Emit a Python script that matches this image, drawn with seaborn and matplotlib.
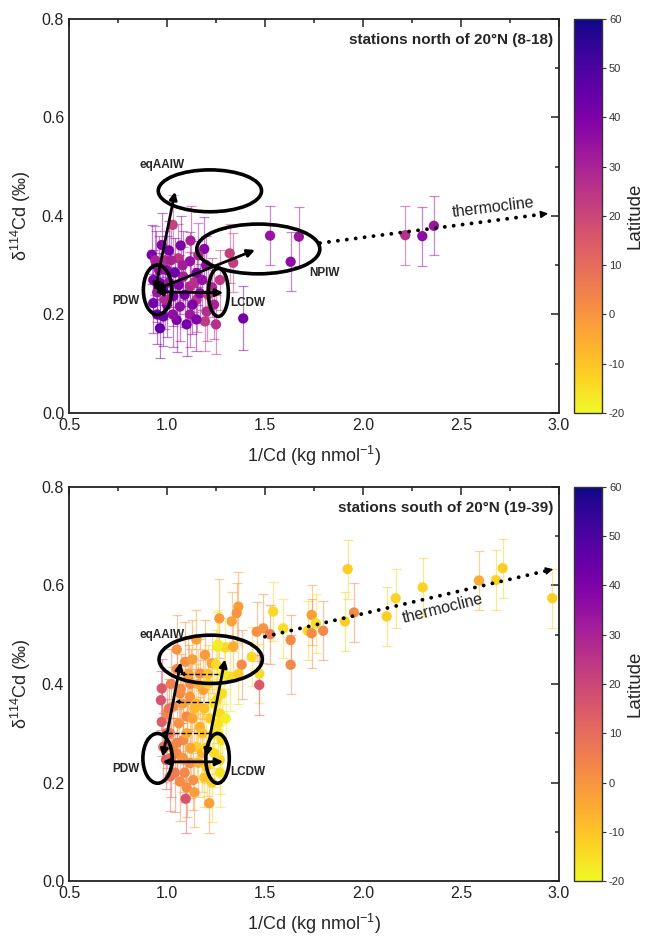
import numpy as np
import pandas as pd
import matplotlib
matplotlib.use("Agg")
import matplotlib.pyplot as plt
import seaborn as sns
from matplotlib.patches import Ellipse
from matplotlib.colors import Normalize
from matplotlib.cm import ScalarMappable
from matplotlib.ticker import MultipleLocator

# ---------------- data ----------------
# stations north of 20°N (8-18)
x_north = [1.029, 0.973, 0.922, 1.058, 1.117, 1.190, 1.320, 1.338, 0.999, 1.083,
           1.151, 0.964, 1.117, 1.032, 1.151, 0.930, 1.066, 0.981, 1.049, 1.194,
           0.964, 1.117, 1.168, 1.202, 0.945, 1.010, 1.090, 1.230, 0.990, 1.040,
           1.140, 1.000, 0.950, 1.250, 1.200, 1.100,
           0.930, 0.960, 0.980, 1.020, 1.060, 1.080, 1.130, 1.160, 1.180, 1.210,
           1.240, 0.950, 1.030, 1.070, 1.120, 0.990, 1.150, 1.270, 1.010, 0.940,
           1.389, 1.526, 1.631, 1.673, 2.216, 2.303, 2.362]
y_north = [0.382, 0.341, 0.321, 0.314, 0.308, 0.333, 0.324, 0.305, 0.290, 0.277,
           0.284, 0.264, 0.257, 0.237, 0.230, 0.223, 0.216, 0.196, 0.189, 0.186,
           0.172, 0.200, 0.243, 0.206, 0.300, 0.265, 0.240, 0.255, 0.310, 0.285,
           0.265, 0.220, 0.245, 0.180, 0.300, 0.180,
           0.270, 0.290, 0.250, 0.310, 0.260, 0.300, 0.220, 0.320, 0.270, 0.240,
           0.220, 0.200, 0.200, 0.340, 0.350, 0.230, 0.190, 0.270, 0.330, 0.310,
           0.192, 0.360, 0.307, 0.358, 0.361, 0.359, 0.380]
err_north = [0.060, 0.065, 0.060, 0.070, 0.060, 0.065, 0.060, 0.060, 0.070, 0.060,
             0.065, 0.060, 0.070, 0.060, 0.065, 0.060, 0.070, 0.060, 0.065, 0.060,
             0.060, 0.065, 0.060, 0.060, 0.070, 0.060, 0.065, 0.060, 0.060, 0.070,
             0.060, 0.065, 0.060, 0.060, 0.060, 0.065,
             0.060, 0.070, 0.060, 0.065, 0.060, 0.070, 0.060, 0.065, 0.060, 0.060,
             0.070, 0.060, 0.065, 0.060, 0.070, 0.060, 0.065, 0.060, 0.060, 0.070,
             0.065, 0.060, 0.060, 0.060, 0.060, 0.060, 0.060]
lat_north = [22, 38, 40, 25, 35, 38, 22, 23, 36, 30,
             40, 42, 28, 40, 25, 42, 36, 44, 40, 24,
             45, 33, 38, 27, 37, 33, 41, 29, 27, 44,
             26, 38, 33, 26, 36, 42,
             40, 35, 43, 30, 38, 32, 40, 28, 35, 22,
             30, 44, 36, 40, 30, 28, 39, 24, 42, 30,
             42, 34, 36, 34, 26, 36, 34]

# stations south of 20°N (19-39)
x_south = [1.593, 1.631, 1.631, 1.718, 1.738, 1.738, 1.760, 1.797, 1.908, 1.922,
           1.954, 2.121, 2.167, 2.305, 2.592, 2.679, 2.713, 2.966,
           1.364, 1.356, 1.267, 1.330, 1.542, 1.458, 1.491, 1.526, 1.257, 1.296,
           1.338, 1.432, 1.381, 1.471, 1.471, 1.321, 1.364, 1.092, 1.194, 1.228,
           1.168, 1.109, 1.066, 0.973, 0.969, 0.973, 0.995, 1.095, 1.216, 1.117,
           1.185, 1.253, 1.270, 1.032, 1.100, 1.168, 1.236, 1.015, 1.083, 1.151,
           1.049, 1.117, 1.202, 1.015, 1.066, 1.134, 1.270, 1.279, 0.981, 0.998,
           1.140, 1.210, 1.050, 1.260, 1.180, 1.120,
           1.000, 1.030, 1.060, 1.080, 1.100, 1.130, 1.150, 1.180, 1.200, 1.220,
           1.240, 1.260, 1.280, 1.020, 1.050, 1.130, 1.160, 1.210, 1.250, 1.290,
           1.040, 1.080, 1.120, 1.160, 1.190, 1.230, 1.270, 1.100, 1.140, 1.010,
           1.070, 1.110, 1.190, 1.240, 1.300, 1.050, 1.150, 1.260, 1.020, 1.090]
y_south = [0.513, 0.489, 0.439, 0.508, 0.540, 0.503, 0.523, 0.508, 0.527, 0.633,
           0.545, 0.537, 0.574, 0.596, 0.610, 0.611, 0.635, 0.574,
           0.557, 0.544, 0.533, 0.527, 0.547, 0.506, 0.513, 0.501, 0.476, 0.474,
           0.476, 0.455, 0.439, 0.421, 0.398, 0.415, 0.420, 0.445, 0.459, 0.442,
           0.421, 0.411, 0.381, 0.391, 0.367, 0.323, 0.246, 0.167, 0.158, 0.374,
           0.388, 0.367, 0.340, 0.354, 0.334, 0.313, 0.300, 0.300, 0.286, 0.272,
           0.259, 0.239, 0.232, 0.212, 0.202, 0.205, 0.246, 0.286, 0.272, 0.340,
           0.350, 0.400, 0.280, 0.320, 0.260, 0.400,
           0.300, 0.270, 0.320, 0.360, 0.300, 0.330, 0.360, 0.300, 0.270, 0.330,
           0.360, 0.300, 0.380, 0.400, 0.430, 0.450, 0.400, 0.420, 0.440, 0.420,
           0.220, 0.250, 0.270, 0.240, 0.210, 0.200, 0.220, 0.190, 0.180, 0.350,
           0.390, 0.420, 0.350, 0.260, 0.330, 0.470, 0.490, 0.480, 0.250, 0.220]
err_south = [0.060, 0.050, 0.060, 0.060, 0.060, 0.070, 0.060, 0.060, 0.060, 0.060,
             0.060, 0.060, 0.060, 0.060, 0.060, 0.060, 0.060, 0.060,
             0.070, 0.060, 0.080, 0.060, 0.060, 0.060, 0.070, 0.060, 0.070, 0.060,
             0.060, 0.060, 0.070, 0.060, 0.060, 0.070, 0.060, 0.080, 0.070, 0.060,
             0.070, 0.080, 0.060, 0.060, 0.060, 0.070, 0.060, 0.070, 0.060, 0.070,
             0.060, 0.070, 0.060, 0.080, 0.070, 0.060, 0.070, 0.060, 0.080, 0.070,
             0.060, 0.070, 0.060, 0.070, 0.080, 0.060, 0.070, 0.060, 0.070, 0.060,
             0.080, 0.070, 0.070, 0.060, 0.080, 0.070,
             0.070, 0.060, 0.080, 0.070, 0.060, 0.070, 0.080, 0.060, 0.070, 0.060,
             0.070, 0.080, 0.060, 0.070, 0.060, 0.080, 0.070, 0.060, 0.070, 0.060,
             0.080, 0.070, 0.060, 0.070, 0.060, 0.080, 0.070, 0.060, 0.070, 0.060,
             0.070, 0.060, 0.080, 0.070, 0.060, 0.070, 0.060, 0.070, 0.080, 0.060]
lat_south = [-15, 2, 3, -14, -2, 2, -15, 3, -12, -12,
             2, -12, -13, -13, -5, -13, -12, -12,
             -2, 0, -1, -3, -14, 1, 0, 6, -16, -15,
             -5, -14, 2, -15, 15, -15, -12, 1, -1, -3,
             0, 2, 3, 15, 16, 14, 14, 16, -2, 0,
             -2, -13, -15, 3, 2, -6, -14, 4, 2, -13,
             3, 1, -12, 8, 2, 1, -14, -15, 10, 3,
             -8, -13, 4, -16, -6, 1,
             10, 4, 0, -2, -5, -3, -8, -10, -14, -12,
             -16, -17, -15, 5, 2, -2, -6, -10, -15, -17,
             6, 0, -4, -6, -10, -13, -16, 2, -2, 8,
             1, -3, -9, -15, -18, 0, -3, -18, 10, 3]

lat_min, lat_max = -20, 60
lat_ticks = list(range(-20, 61, 10))
x_ticks = [0.5, 1.0, 1.5, 2.0, 2.5, 3.0]
y_ticks = [0.0, 0.2, 0.4, 0.6, 0.8]

north = pd.DataFrame({"inv_cd": x_north, "d114": y_north, "err": err_north, "lat": lat_north})
south = pd.DataFrame({"inv_cd": x_south, "d114": y_south, "err": err_south, "lat": lat_south})

# ---------------- style ----------------
sns.set_style("white")
plt.rcParams["font.family"] = ["Liberation Sans", "DejaVu Sans"]
plt.rcParams["axes.unicode_minus"] = False
plt.rcParams["mathtext.fontset"] = "custom"
plt.rcParams["mathtext.rm"] = "Liberation Sans"
plt.rcParams["mathtext.it"] = "Liberation Sans:italic"
plt.rcParams["mathtext.bf"] = "Liberation Sans:bold"

cmap = plt.get_cmap("plasma_r")
norm = Normalize(vmin=lat_min, vmax=lat_max)

fig = plt.figure(figsize=(6.48, 9.43), dpi=100)
ax_w = 0.756
ax_h = 0.418
ax_top = fig.add_axes([0.1065, 0.562, ax_w, ax_h])
ax_bot = fig.add_axes([0.1065, 0.0657, ax_w, ax_h])
cax_top = fig.add_axes([0.886, 0.562, 0.043, ax_h])
cax_bot = fig.add_axes([0.886, 0.0657, 0.043, ax_h])


def draw_points(ax, df):
    for _, r in df.iterrows():
        ax.errorbar(r["inv_cd"], r["d114"], yerr=r["err"], fmt="none",
                    ecolor=cmap(norm(r["lat"])), elinewidth=0.9, capsize=3.5,
                    capthick=0.9, alpha=0.5, zorder=2)
    sns.scatterplot(data=df, x="inv_cd", y="d114", hue="lat", palette="plasma_r",
                    hue_norm=(lat_min, lat_max), s=55, linewidth=0, legend=False,
                    ax=ax, zorder=3)


def style_axes(ax):
    ax.set_xlim(0.5, 3.0)
    ax.set_ylim(0.0, 0.8)
    ax.set_xticks(x_ticks)
    ax.set_yticks(y_ticks)
    ax.set_xticklabels([f"{v:.1f}" for v in x_ticks])
    ax.set_yticklabels([f"{v:.1f}" for v in y_ticks])
    ax.xaxis.set_minor_locator(MultipleLocator(0.25))
    ax.yaxis.set_minor_locator(MultipleLocator(0.1))
    ax.tick_params(which="both", direction="in", top=True, right=True,
                   labelsize=11.5, colors="#222222", labelcolor="#222222")
    ax.tick_params(which="major", length=6, width=1.1)
    ax.tick_params(which="minor", length=3, width=1.1)
    for s in ax.spines.values():
        s.set_linewidth(1.3)
        s.set_color("#222222")
    ax.set_xlabel("1/Cd (kg nmol$^{-1}$)", fontsize=13, labelpad=8)
    ax.set_ylabel("δ$^{114}$Cd (‰)", fontsize=13, labelpad=6)


def colorbar(cax):
    sm = ScalarMappable(norm=norm, cmap=cmap)
    cb = fig.colorbar(sm, cax=cax, ticks=lat_ticks)
    cb.outline.set_linewidth(1.0)
    cb.outline.set_edgecolor("#333333")
    cax.tick_params(labelsize=8, length=3, width=0.8, pad=2, colors="#333333")
    cb.set_label("Latitude", fontsize=13.5, labelpad=1)


def ellipse(ax, cx, cy, w, h):
    ax.add_patch(Ellipse((cx, cy), w, h, fill=False, lw=2.6, ec="black", zorder=5))


def arrow(ax, x0, y0, x1, y1, style="<|-|>", lw=2.0, scale=11):
    ax.annotate("", xy=(x1, y1), xytext=(x0, y0),
                arrowprops=dict(arrowstyle=style, lw=lw, color="black",
                                mutation_scale=scale, shrinkA=0, shrinkB=0),
                zorder=6)


def dotted_arrow(ax, x0, y0, x1, y1):
    ax.plot([x0, x1 - 0.02 * (x1 - x0)], [y0, y1 - 0.02 * (y1 - y0)],
            ls=(0, (0.01, 2.3)), lw=2.8, color="black",
            dash_capstyle="round", zorder=6)
    dx, dy = (x1 - x0) * 0.03, (y1 - y0) * 0.03
    ax.annotate("", xy=(x1, y1), xytext=(x1 - dx, y1 - dy),
                arrowprops=dict(arrowstyle="-|>", lw=1.0, color="black",
                                mutation_scale=11, shrinkA=0, shrinkB=0),
                zorder=6)


def dashed_left_arrow(ax, x0, x1, y):
    ax.plot([x0, x1 + 0.02], [y, y], ls=(0, (3, 1.5)), lw=1.0, color="black", zorder=6)
    ax.annotate("", xy=(x1, y), xytext=(x1 + 0.03, y),
                arrowprops=dict(arrowstyle="-|>", lw=0.8, color="black",
                                mutation_scale=6, shrinkA=0, shrinkB=0),
                zorder=6)


lab_kw = dict(fontsize=8.5, fontweight="bold", zorder=7)

# ---------------- upper panel ----------------
draw_points(ax_top, north)
style_axes(ax_top)
colorbar(cax_top)

ellipse(ax_top, 1.219, 0.451, 0.527, 0.085)   # eqAAIW
ellipse(ax_top, 1.466, 0.333, 0.628, 0.101)   # NPIW
ellipse(ax_top, 0.952, 0.250, 0.145, 0.101)   # PDW
ellipse(ax_top, 1.262, 0.245, 0.102, 0.098)   # LCDW
arrow(ax_top, 0.939, 0.248, 1.041, 0.449)
arrow(ax_top, 0.939, 0.246, 1.287, 0.244)
arrow(ax_top, 0.939, 0.250, 1.449, 0.331)
dotted_arrow(ax_top, 1.781, 0.345, 2.945, 0.405)
ax_top.text(0.973, 0.503, "eqAAIW", ha="center", va="center", **lab_kw)
ax_top.text(1.806, 0.285, "NPIW", ha="center", va="center", **lab_kw)
ax_top.text(0.862, 0.228, "PDW", ha="right", va="center", **lab_kw)
ax_top.text(1.325, 0.223, "LCDW", ha="left", va="center", **lab_kw)
ax_top.text(2.665, 0.418, "thermocline", ha="center", va="center",
            fontsize=11.5, rotation=7, color="#222222", zorder=7)
ax_top.text(0.988, 0.947, "stations north of 20°N (8-18)", transform=ax_top.transAxes,
            ha="right", va="center", fontsize=11, fontweight="bold", zorder=7)

# ---------------- lower panel ----------------
draw_points(ax_bot, south)
style_axes(ax_bot)
colorbar(cax_bot)

ellipse(ax_bot, 1.223, 0.450, 0.527, 0.098)   # eqAAIW
ellipse(ax_bot, 0.952, 0.249, 0.150, 0.101)   # PDW
ellipse(ax_bot, 1.258, 0.249, 0.120, 0.101)   # LCDW
arrow(ax_bot, 0.978, 0.252, 1.070, 0.444)
arrow(ax_bot, 1.199, 0.252, 1.296, 0.450)
arrow(ax_bot, 0.978, 0.242, 1.287, 0.242)
dashed_left_arrow(ax_bot, 1.262, 1.066, 0.420)
dashed_left_arrow(ax_bot, 1.245, 1.041, 0.364)
dashed_left_arrow(ax_bot, 1.219, 0.973, 0.301)
dotted_arrow(ax_bot, 1.500, 0.496, 2.971, 0.633)
ax_bot.text(0.973, 0.499, "eqAAIW", ha="center", va="center", **lab_kw)
ax_bot.text(0.862, 0.227, "PDW", ha="right", va="center", **lab_kw)
ax_bot.text(1.325, 0.222, "LCDW", ha="left", va="center", **lab_kw)
ax_bot.text(2.41, 0.553, "thermocline", ha="center", va="center",
            fontsize=11.5, rotation=14, color="#222222", zorder=7)
ax_bot.text(0.988, 0.947, "stations south of 20°N (19-39)", transform=ax_bot.transAxes,
            ha="right", va="center", fontsize=11, fontweight="bold", zorder=7)

fig.savefig("out.png", dpi=100)
